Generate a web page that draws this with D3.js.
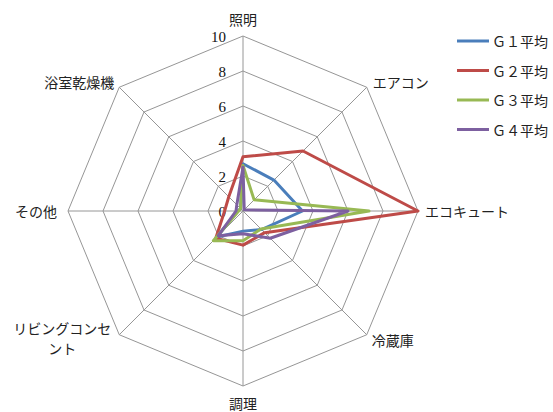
<!DOCTYPE html>
<html>
<head>
<meta charset="utf-8">
<script src="https://cdn.jsdelivr.net/npm/d3@7"></script>
<style>
  html, body { margin: 0; padding: 0; background: #fff; }
  svg { display: block; }
  .jp { font-family: "Noto Sans CJK JP", sans-serif; font-size: 14px; fill: #222; }
  .tick { font-family: "Liberation Serif", "DejaVu Serif", serif; font-size: 15px; fill: #111; }
</style>
</head>
<body>
<svg id="chart" width="553" height="412"></svg>
<script>
// Categories (clockwise from the top)
const categories = ["照明", "エアコン", "エコキュート", "冷蔵庫", "調理", "リビングコンセント", "その他", "浴室乾燥機"];

// Average consumption per group
const g1Values = [2.7, 2.5, 3.4, 1.5, 1.15, 2.1, 0.3, 0.2];
const g2Values = [3.1, 4.85, 10, 1.75, 1.95, 2.2, 1.05, 1.15];
const g3Values = [2.6, 0.9, 7.2, 1.45, 1.7, 2.4, 0.25, 0.2];
const g4Values = [2.5, 0.1, 6.0, 2.2, 1.3, 2.0, 0.4, 0.5];

const seriesNames = ["Ｇ１平均", "Ｇ２平均", "Ｇ３平均", "Ｇ４平均"];
const seriesColors = ["#4A7EBB", "#BE4B48", "#98B954", "#7D60A0"];
const tickValues = [0, 2, 4, 6, 8, 10];

const series = [g1Values, g2Values, g3Values, g4Values].map((v, i) => ({
  name: seriesNames[i], color: seriesColors[i], values: v
}));

const svg = d3.select("#chart");
const cx = 243, cy = 211, R = 175;

const r = d3.scaleLinear().domain([0, 10]).range([0, R]);
const angle = d3.scalePoint().domain(d3.range(categories.length + 1)).range([0, 2 * Math.PI]);
const ang = i => angle(i);

const g = svg.append("g").attr("transform", `translate(${cx},${cy})`);

const pt = (i, v) => {
  const a = ang(i);
  return [r(v) * Math.sin(a), -r(v) * Math.cos(a)];
};

const gridColor = "#969696";

// Grid rings
const ringLine = d3.lineRadial()
  .angle((d, i) => ang(i))
  .radius(d => r(d))
  .curve(d3.curveLinearClosed);

tickValues.filter(t => t > 0).forEach(t => {
  g.append("path")
    .attr("d", ringLine(categories.map(() => t)))
    .attr("fill", "none")
    .attr("stroke", gridColor)
    .attr("stroke-width", 1);
});

// Spokes
categories.forEach((c, i) => {
  const [x, y] = pt(i, 10);
  g.append("line")
    .attr("x1", 0).attr("y1", 0).attr("x2", x).attr("y2", y)
    .attr("stroke", gridColor).attr("stroke-width", 1);
});

// Tick labels along the top spoke
tickValues.forEach(t => {
  g.append("text")
    .attr("class", "tick")
    .attr("x", -17)
    .attr("y", -r(t) + 1)
    .attr("text-anchor", "end")
    .attr("dominant-baseline", "central")
    .text(t);
});

// Category labels
const labelStyle = [
  { anchor: "middle", dx: 0, dy: -17 },
  { anchor: "start", dx: 6, dy: -5 },
  { anchor: "start", dx: 7, dy: 0 },
  { anchor: "start", dx: 5, dy: 5 },
  { anchor: "middle", dx: 0, dy: 17 },
  { anchor: "middle", dx: -57, dy: -7 },
  { anchor: "end", dx: -11, dy: 0 },
  { anchor: "end", dx: -5, dy: -5 }
];
categories.forEach((c, i) => {
  const [x, y] = pt(i, 10);
  const s = labelStyle[i];
  const t = g.append("text")
    .attr("class", "jp")
    .attr("text-anchor", s.anchor)
    .attr("dominant-baseline", "central")
    .attr("x", x + s.dx)
    .attr("y", y + s.dy);
  if (c === "リビングコンセント") {
    t.append("tspan").attr("x", x + s.dx).attr("y", y + s.dy).text("リビングコンセ");
    t.append("tspan").attr("x", x + s.dx).attr("y", y + s.dy + 20).text("ント");
  } else {
    t.text(c);
  }
});

// Series polygons
const seriesLine = d3.lineRadial()
  .angle((d, i) => ang(i))
  .radius(d => r(d))
  .curve(d3.curveLinearClosed);

series.forEach(s => {
  g.append("path")
    .attr("d", seriesLine(s.values))
    .attr("fill", "none")
    .attr("stroke", s.color)
    .attr("stroke-width", 3)
    .attr("stroke-linejoin", "round");
});

// Legend
const legend = svg.append("g").attr("transform", "translate(457,41)");
series.forEach((s, i) => {
  const row = legend.append("g").attr("transform", `translate(0,${i * 29.5})`);
  row.append("line")
    .attr("x1", 0).attr("x2", 32).attr("y1", 0).attr("y2", 0)
    .attr("stroke", s.color).attr("stroke-width", 3);
  row.append("text")
    .attr("class", "jp")
    .attr("x", 35).attr("y", 0)
    .attr("dominant-baseline", "central")
    .text(s.name);
});
</script>
</body>
</html>
